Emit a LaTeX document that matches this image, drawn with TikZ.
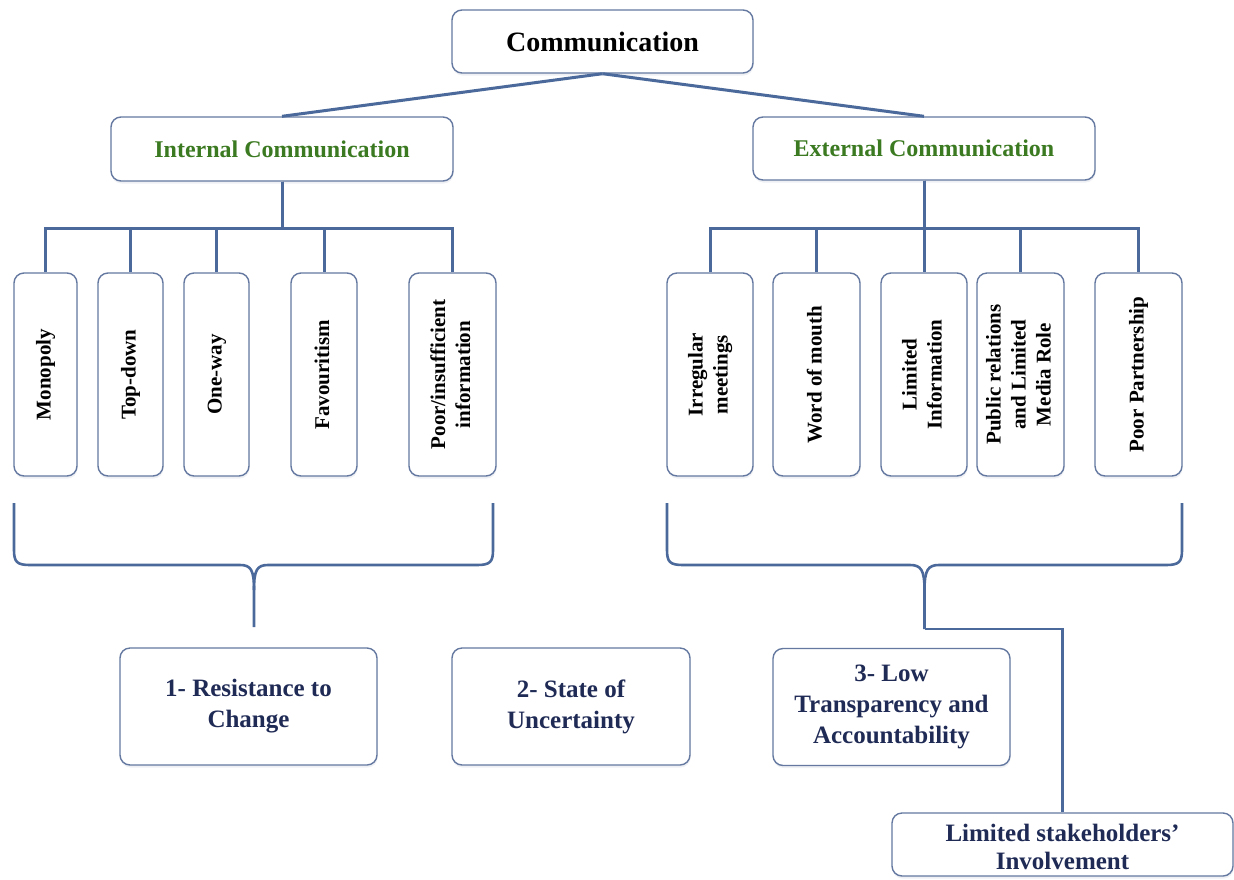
\documentclass[tikz,border=0pt]{standalone}
\usepackage{fontspec}
\setmainfont{Liberation Serif}
\usetikzlibrary{shadows}
\definecolor{boxline}{HTML}{6579A0}
\definecolor{linkcol}{HTML}{4B6A9B}
\definecolor{greentxt}{HTML}{3C7A22}
\definecolor{navytxt}{HTML}{1F2A55}
\newcommand{\vlab}[1]{\rotatebox{90}{\begin{tabular}{@{}c@{}}#1\end{tabular}}}
\tikzset{
  box/.style={draw=boxline, line width=1.4pt, rounded corners=10pt, fill=white,
    inner sep=0pt, align=center,
    drop shadow={shadow xshift=0.5pt, shadow yshift=-2.5pt, opacity=0.18, fill=boxline!60}},
  vbox/.style={box, minimum height=203pt, font=\fontsize{21}{25}\selectfont\bfseries},
  resbox/.style={box, minimum height=117pt, font=\fontsize{25}{31}\selectfont\bfseries, text=navytxt},
  link/.style={draw=linkcol, line width=3pt},
  bracepath/.style={draw=linkcol, line width=2.6pt}
}
\begin{document}
\begin{tikzpicture}[x=1pt,y=-1pt]
\useasboundingbox[fill=white] (0,0) rectangle (1234,879);

% top level
\node[box, minimum width=301pt, minimum height=63pt, font=\fontsize{28}{32}\selectfont\bfseries] (comm) at (602.5,41.5) {Communication};
\node[box, minimum width=342pt, minimum height=64pt, font=\fontsize{24}{28}\selectfont\bfseries, text=greentxt] (int) at (282,149) {Internal Communication};
\node[box, minimum width=342pt, minimum height=63pt, font=\fontsize{24}{28}\selectfont\bfseries, text=greentxt] (ext) at (924,148.5) {External Communication};

% internal children
\node[vbox, minimum width=63pt] (mono) at (45.5,374.5) {\vlab{Monopoly}};
\node[vbox, minimum width=65pt] (top) at (130.5,374.5) {\vlab{Top-down}};
\node[vbox, minimum width=65pt] (one) at (216.5,374.5) {\vlab{One-way}};
\node[vbox, minimum width=66pt] (fav) at (324,374.5) {\vlab{Favouritism}};
\node[vbox, minimum width=87pt] (poor) at (452.5,374.5) {\vlab{Poor/insufficient\\information}};

% external children
\node[vbox, minimum width=86pt] (irr) at (710,374.5) {\vlab{Irregular\\meetings}};
\node[vbox, minimum width=87pt] (word) at (816.5,374.5) {\vlab{Word of mouth}};
\node[vbox, minimum width=86pt] (lim) at (924,374.5) {\vlab{Limited\\Information}};
\node[vbox, minimum width=87pt] (pub) at (1020.5,374.5) {\vlab{Public relations\\and Limited\\Media Role}};
\node[vbox, minimum width=87pt] (part) at (1138.5,374.5) {\vlab{Poor Partnership}};

% results
\node[resbox, minimum width=257pt] (res) at (248.5,706.5) {1- Resistance to\\Change};
\node[resbox, minimum width=238pt] (state) at (571,706.5) {2- State of\\Uncertainty};
\node[resbox, minimum width=237pt] (low) at (891.5,707) {3- Low\\Transparency and\\Accountability};
\node[box, minimum width=341pt, minimum height=63pt, font=\fontsize{25}{28}\selectfont\bfseries, text=navytxt] (stake) at (1062.5,844.5) {\raisebox{-5pt}[\height][\depth]{\begin{tabular}{@{}c@{}}Limited stakeholders’\\Involvement\end{tabular}}};

% connectors from Communication
\draw[link] (comm.south) -- (int.north);
\draw[link] (comm.south) -- (ext.north);

% internal tree
\foreach \c in {mono,top,one,fav,poor}
  \draw[link] (int.south) -- ++(0,47) -| (\c.north);
% external tree
\foreach \c in {irr,word,lim,pub,part}
  \draw[link] (ext.south) -- ++(0,47.5) -| (\c.north);

% left brace
\coordinate (bla) at (14,503);
\coordinate (blb) at (493,503);
\coordinate (blt) at (254,627);
\draw[bracepath] (bla) -- (14,550) .. controls (14,562) and (17,565) .. (30,565)
  -- (240,565) .. controls (251,565) and (254,570) .. (254,590) -- (blt);
\draw[bracepath] (254,590) .. controls (254,570) and (257,565) .. (268,565)
  -- (477,565) .. controls (490,565) and (493,562) .. (493,550) -- (blb);

% right brace
\coordinate (bra) at (667,503);
\coordinate (brb) at (1182,503);
\coordinate (brt) at (924.5,629);
\draw[bracepath] (bra) -- (667,550) .. controls (667,562) and (670,565) .. (683,565)
  -- (910,565) .. controls (921,565) and (924.5,570) .. (924.5,590) -- (brt);
\draw[bracepath] (924.5,590) .. controls (924.5,570) and (928,565) .. (939,565)
  -- (1166,565) .. controls (1179,565) and (1182,562) .. (1182,550) -- (brb);
\draw[bracepath] (brt) -| (stake.north);
\end{tikzpicture}
\end{document}
